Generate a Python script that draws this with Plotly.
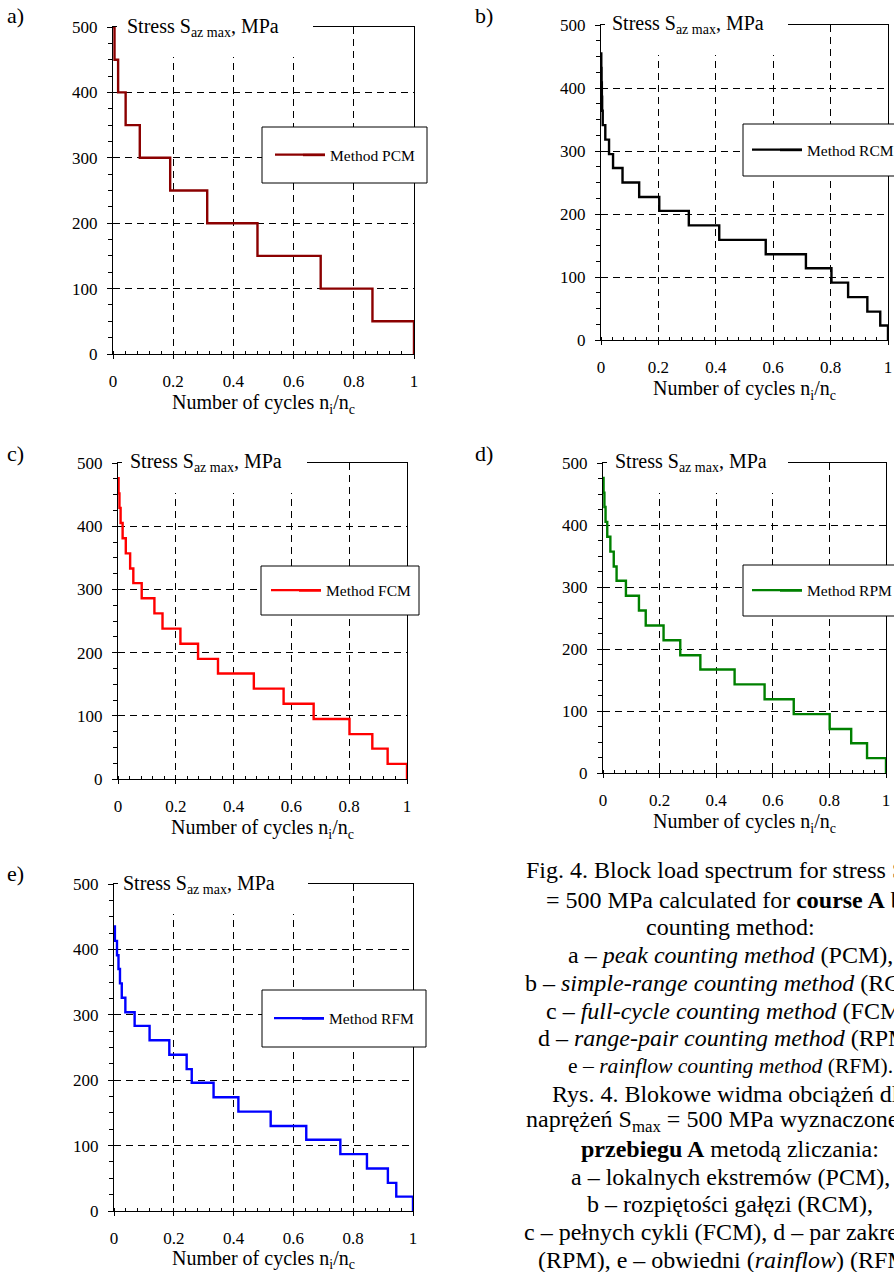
import plotly.graph_objects as go

W, H = 894, 1272
FONT = "Liberation Serif"

# ---------------- data ----------------
levels_pcm = [500, 450, 400, 350, 300, 250, 200, 150, 100, 50]
cum_pcm = [0.005, 0.017, 0.042, 0.089, 0.19, 0.313, 0.48, 0.69, 0.862, 1.0]

levels_rcm = [455, 432, 409, 386, 364, 341, 318, 295, 273, 250,
              227, 205, 182, 159, 136, 114, 91, 68, 45, 23]
cum_rcm = [0.001, 0.002, 0.003, 0.004, 0.006, 0.015, 0.028, 0.042, 0.075, 0.133,
           0.203, 0.306, 0.412, 0.574, 0.714, 0.803, 0.861, 0.928, 0.973, 1.0]

levels_fcm = [476, 452, 429, 405, 381, 357, 333, 310, 286, 262,
              238, 214, 190, 167, 143, 119, 95, 71, 48, 24]
cum_fcm = [0.002, 0.005, 0.009, 0.016, 0.027, 0.042, 0.053, 0.082, 0.126, 0.154,
           0.216, 0.277, 0.346, 0.470, 0.573, 0.677, 0.801, 0.880, 0.933, 1.0]

levels_rpm = [476, 452, 429, 405, 381, 357, 333, 310, 286, 262,
              238, 214, 190, 167, 143, 119, 95, 71, 48, 24]
cum_rpm = [0.002, 0.005, 0.009, 0.015, 0.026, 0.038, 0.048, 0.081, 0.127, 0.151,
           0.214, 0.273, 0.344, 0.465, 0.571, 0.674, 0.801, 0.877, 0.933, 1.0]

levels_rfm = [435, 413, 391, 370, 348, 326, 304, 283, 261, 239,
              217, 196, 174, 152, 130, 109, 87, 65, 43, 22]
cum_rfm = [0.003, 0.010, 0.015, 0.020, 0.026, 0.038, 0.069, 0.119, 0.185, 0.243,
           0.260, 0.333, 0.416, 0.524, 0.643, 0.757, 0.846, 0.916, 0.944, 1.0]

x_tick_vals = [0, 0.2, 0.4, 0.6, 0.8, 1]
x_tick_text = ["0", "0.2", "0.4", "0.6", "0.8", "1"]
y_tick_vals = [0, 100, 200, 300, 400, 500]
y_tick_text = ["0", "100", "200", "300", "400", "500"]

panel_labels = ["a)", "b)", "c)", "d)", "e)"]
series_names = ["Method PCM", "Method RCM", "Method FCM", "Method RPM", "Method RFM"]
series_colors = ["#8B0000", "#000000", "#FF0000", "#008000", "#0000FF"]
series_levels = [levels_pcm, levels_rcm, levels_fcm, levels_rpm, levels_rfm]
series_cum = [cum_pcm, cum_rcm, cum_fcm, cum_rpm, cum_rfm]

y_title = "Stress S<sub>az max</sub>, MPa"
x_title = "Number of cycles n<sub>i</sub>/n<sub>c</sub>"

caption_lines = [
    "Fig. 4. Block load spectrum for stress S<sub>max</sub>",
    "= 500 MPa calculated for <b>course A</b> by",
    "counting method:",
    "a – <i>peak counting method</i> (PCM),",
    "b – <i>simple-range counting method</i> (RCM),",
    "c – <i>full-cycle counting method</i> (FCM),",
    "d – <i>range-pair counting method</i> (RPM),",
    "e – <i>rainflow counting method</i> (RFM).",
    "Rys. 4. Blokowe widma obciążeń dla",
    "naprężeń S<sub>max</sub> = 500 MPa wyznaczone dla",
    "<b>przebiegu A</b> metodą zliczania:",
    "a – lokalnych ekstremów (PCM),",
    "b – rozpiętości gałęzi (RCM),",
    "c – pełnych cykli (FCM), d – par zakresów",
    "(RPM), e – obwiedni (<i>rainflow</i>) (RFM).",
]
caption_sizes = [24, 24, 24, 24, 24, 24, 24, 21.6, 24, 24, 24, 24, 24, 24, 24]

# ---------------- layout geometry (pixels) ----------------
plot_boxes = [(113, 414, 27, 354), (601, 888, 25, 340), (118, 407, 463, 779),
              (603, 886, 463, 773), (114, 413, 884, 1211)]
legend_boxes = [(262, 427, 127, 183), (743, 915, 124, 176), (261, 419, 566, 615),
                (743, 915, 565, 616), (262, 426, 990, 1047)]
legend_line_start = [275, 752, 271, 752, 274]
title_text_left = [128, 613, 131, 616, 124]
title_box_right = [313, 788, 307, 788, 308]
label_pos = [(8, 15), (476, 15), (8, 453), (476, 453), (8, 873)]
caption_center_x = 730
caption_y0 = 872
caption_dy = 27.7


def fx(px):
    return px / W


def fy(py):
    return 1 - py / H


fig = go.Figure()
shapes = []
annotations = []
layout_axes = {}

for i in range(5):
    suffix = "" if i == 0 else str(i + 1)
    L, R, T, B = plot_boxes[i]
    xs = [0.0] + series_cum[i]
    ys = series_levels[i] + [0]
    legname = "legend" + suffix
    fig.add_trace(go.Scatter(
        x=xs, y=ys, mode="lines", name=series_names[i],
        line=dict(color=series_colors[i], width=2.4, shape="hv"),
        xaxis="x" + suffix, yaxis="y" + suffix, legend=legname,
        showlegend=True,
    ))
    common = dict(
        showline=True, linecolor="black", linewidth=1, mirror=True,
        showgrid=True, gridcolor="black", gridwidth=1, griddash="7px,5px",
        zeroline=False, tickfont=dict(family=FONT, size=17, color="black"),
        ticks="outside", tickcolor="black", tickwidth=1, automargin=False,
    )
    layout_axes["xaxis" + suffix] = dict(
        common, domain=[fx(L), fx(R)], range=[0, 1], anchor="y" + suffix,
        tickvals=x_tick_vals, ticktext=x_tick_text, ticklen=4,
        ticklabelstandoff=8,
        minor=dict(dtick=0.04, ticks="inside", ticklen=3, tickcolor="black", showgrid=False),
        title=dict(text=x_title, font=dict(family=FONT, size=20, color="black"), standoff=2),
    )
    layout_axes["yaxis" + suffix] = dict(
        common, domain=[fy(B), fy(T)], range=[0, 500], anchor="x" + suffix,
        tickvals=y_tick_vals, ticktext=y_tick_text, ticklen=5,
        ticklabelstandoff=6,
        minor=dict(dtick=25, ticks="outside", ticklen=4, tickcolor="black", showgrid=False),
    )
    # white box behind the chart title (covers top border / grid like the original)
    shapes.append(dict(type="rect", xref="paper", yref="paper", layer="above",
                       x0=fx(L + 4), x1=fx(title_box_right[i]), y0=fy(T + 30), y1=fy(T - 14),
                       fillcolor="white", line=dict(width=0)))
    annotations.append(dict(text=y_title, xref="paper", yref="paper", showarrow=False,
                            x=fx(title_text_left[i] - 3), xanchor="left", y=fy(T), yanchor="middle",
                            font=dict(family=FONT, size=20, color="black")))
    # legend frame
    lL, lR, lT, lB = legend_boxes[i]
    lc = (lT + lB) / 2
    shapes.append(dict(type="rect", xref="paper", yref="paper", layer="above",
                       x0=fx(lL), x1=fx(lR), y0=fy(lB), y1=fy(lT),
                       fillcolor="white", line=dict(color="black", width=1)))
    ls = legend_line_start[i]
    # extend the 30px legend sample line to the original 50px
    shapes.append(dict(type="line", xref="paper", yref="paper", layer="above",
                       x0=fx(ls + 28), x1=fx(ls + 50), y0=fy(lc), y1=fy(lc),
                       line=dict(color=series_colors[i], width=2.4)))
    layout_axes[legname] = dict(
        x=fx(ls - 5), xanchor="left", y=fy(lc), yanchor="middle",
        bgcolor="rgba(0,0,0,0)", borderwidth=0, itemwidth=50,
        font=dict(family=FONT, size=15.5, color="black"),
    )
    lx, ly = label_pos[i]
    annotations.append(dict(text=panel_labels[i], xref="paper", yref="paper", showarrow=False,
                            x=fx(lx - 3), xanchor="left", y=fy(ly), yanchor="middle",
                            font=dict(family=FONT, size=22, color="black")))

for k, line in enumerate(caption_lines):
    annotations.append(dict(text=line, xref="paper", yref="paper", showarrow=False,
                            x=fx(caption_center_x), xanchor="center",
                            y=fy(caption_y0 + k * caption_dy), yanchor="middle",
                            font=dict(family=FONT, size=caption_sizes[k], color="black")))

fig.update_layout(
    width=W, height=H, margin=dict(l=0, r=0, t=0, b=0, autoexpand=False),
    paper_bgcolor="white", plot_bgcolor="white",
    shapes=shapes, annotations=annotations, **layout_axes,
)

fig.write_html("out.html", config={"displayModeBar": False},
               post_script="document.body.style.margin='0';document.body.style.overflow='hidden';")
